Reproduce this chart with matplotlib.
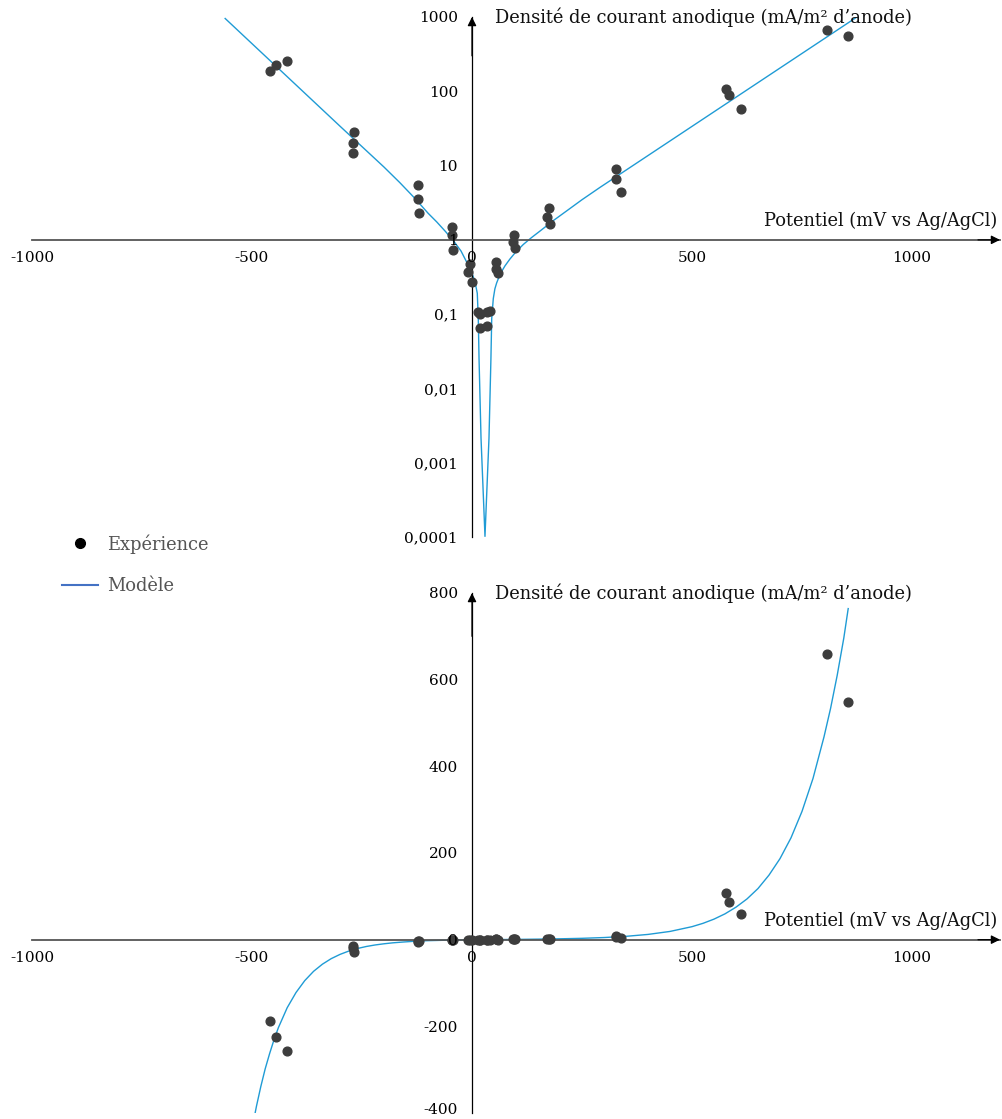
import matplotlib
matplotlib.use("Agg")
import matplotlib.pyplot as plt
from matplotlib.lines import Line2D
from matplotlib.ticker import FixedLocator, FixedFormatter, NullLocator

plt.rcParams['font.family'] = ['DejaVu Serif']

# Données expérimentales (potentiel en mV, densité de courant signée en mA/m2)
E_exp = [-459, -445, -421, -268, -271, -271, -123, -123, -120, -46, -46, -43,
         -5, -8, -1, 13, 18, 19, 33, 35, 41, 55, 55, 58, 95, 93, 98,
         174, 170, 177, 327, 327, 338, 577, 584, 611, 806, 854]
j_exp = [-187, -225, -258, -28, -20, -14.6, -5.5, -3.6, -2.3, -1.48, -1.17, -0.72,
         -0.47, -0.37, -0.27, -0.107, -0.099, -0.066, 0.070, 0.108, 0.109, 0.51, 0.40, 0.36,
         1.18, 0.93, 0.77, 2.69, 2.05, 1.62, 9.1, 6.6, 4.35, 107, 88, 58.6, 660, 548]

# Modèle, échelle log (|j|)
E_mod_log = [-561, -300, -200, -164, -130, -100, -80, -60, -40, -25, -12, 0, 7, 12,
             14.3, 16, 20.5, 29.5, 38.6, 43, 44.8, 48.4, 52, 56, 64, 75, 86, 100, 117,
             135, 155, 185, 215, 250, 291, 880]
j_mod_log = [955, 33.9, 9.55, 5.89, 3.63, 2.29, 1.74, 1.29, 0.933, 0.708, 0.501, 0.355,
             0.269, 0.191, 0.087, 0.025, 0.00214, 0.000102, 0.00214, 0.025, 0.087, 0.162,
             0.219, 0.263, 0.347, 0.447, 0.550, 0.692, 0.871, 1.07, 1.32, 1.82, 2.45,
             3.47, 5.09, 1047]

# Modèle, échelle linéaire (j signé)
E_mod_lin = [-500, -490, -480, -470, -460, -450, -440, -420, -400, -380, -360, -340,
             -320, -300, -280, -260, -240, -220, -200, -180, -160, -130, -100, -60, -30,
             0, 30, 60, 100, 150, 200, 250, 300, 350, 400, 450, 500, 525, 550, 575, 600,
             625, 650, 675, 700, 725, 750, 775, 800, 815, 830, 845, 855]
j_mod_lin = [-437, -385, -339, -298, -263, -231, -203, -157, -122, -94.4, -73, -56.6,
             -43.8, -34, -26.3, -20.3, -15.7, -12.2, -9.5, -7.3, -5.7, -3.6, -2.3, -1.3,
             -0.7, -0.35, 0, 0.25, 0.6, 1.2, 2.0, 3.1, 4.9, 7.7, 12.1, 19, 30, 37.7, 47.4,
             59.6, 75, 94, 118, 149, 187, 235, 296, 372, 468, 534, 610, 696, 764]

x_ticks = [-1000, -500, 0, 500, 1000]
x_labels = ['-1000', '-500', '0', '500', '1000']
y_ticks_log = [1e-4, 1e-3, 1e-2, 1e-1, 1, 10, 100, 1000]
y_labels_log = ['0,0001', '0,001', '0,01', '0,1', '1', '10', '100', '1000']
y_ticks_lin = [-400, -200, 0, 200, 400, 600, 800]
y_labels_lin = ['-400', '-200', '0', '200', '400', '600', '800']

ylabel = 'Densité de courant anodique (mA/m² d’anode)'
xlabel = 'Potentiel (mV vs Ag/AgCl)'

col_mod = '#1f9bd5'
col_pt = '#3d3d3d'
W, H = 1003, 1119

fig = plt.figure(figsize=(W / 100, H / 100), dpi=100)
ax1 = fig.add_axes([32 / W, 1 - 537 / H, 968 / W, 520 / H])
ax2 = fig.add_axes([32 / W, 1 - 1113 / H, 968 / W, 520 / H])


def arrow(ax, x0, y0, x1, y1):
    ax.annotate('', xy=(x1, y1), xytext=(x0, y0),
                arrowprops=dict(arrowstyle='-|>', color='black', lw=0.9,
                                mutation_scale=13, shrinkA=0, shrinkB=0),
                annotation_clip=False)


def style_axes(ax, ycross, ytop, ytail, yticks, ylabels):
    ax.set_xlim(-1000, 1200)
    for s in ['top', 'right']:
        ax.spines[s].set_visible(False)
    ax.spines['left'].set_position(('data', 0))
    ax.spines['bottom'].set_position(('data', ycross))
    ax.spines['left'].set_color('black')
    ax.spines['left'].set_linewidth(0.9)
    ax.spines['bottom'].set_color('#555555')
    ax.spines['bottom'].set_linewidth(1.3)
    ax.set_xticks(x_ticks)
    ax.set_xticklabels(x_labels)
    ax.yaxis.set_major_locator(FixedLocator(yticks))
    ax.yaxis.set_major_formatter(FixedFormatter(ylabels))
    ax.yaxis.set_minor_locator(NullLocator())
    ax.tick_params(axis='x', length=0, pad=8, labelsize=11)
    ax.tick_params(axis='y', length=0, pad=10, labelsize=11)
    ax.xaxis.set_zorder(5)
    ax.yaxis.set_zorder(5)
    ax.set_facecolor('none')
    # flèches
    arrow(ax, 1150, ycross, 1200, ycross)
    arrow(ax, 0, ytail, 0, ytop)
    ax.annotate(ylabel, xy=(0, ytop), xytext=(16.5, 0), textcoords='offset points',
                ha='left', va='center', fontsize=12.9, color='#111111')
    ax.annotate(xlabel, xy=(1200, ycross), xytext=(-2, 13.5), textcoords='offset points',
                ha='right', va='center', fontsize=12.9, color='#111111')


# --- graphique logarithmique
ax1.set_yscale('log')
ax1.set_ylim(1e-4, 1e3)
ax1.plot(E_mod_log, j_mod_log, color=col_mod, lw=1.0, zorder=2)
ax1.plot(E_exp, [abs(v) for v in j_exp], 'o', color=col_pt, ms=6.3, zorder=3)
style_axes(ax1, 1, 1e3, 300, y_ticks_log, y_labels_log)

# --- graphique linéaire
ax2.set_ylim(-400, 800)
ax2.plot(E_mod_lin, j_mod_lin, color=col_mod, lw=1.0, zorder=2)
ax2.plot(E_exp, j_exp, 'o', color=col_pt, ms=6.3, zorder=3)
style_axes(ax2, 0, 800, 700, y_ticks_lin, [''] + y_labels_lin[1:])
# le libellé du bas, un peu remonté pour rester dans l'image
ax2.annotate(y_labels_lin[0], xy=(0, y_ticks_lin[0]), xytext=(-10, 2.5),
             textcoords='offset points', ha='right', va='center', fontsize=11,
             annotation_clip=False)

handles = [Line2D([], [], marker='o', ls='none', color='black', ms=7),
           Line2D([], [], color='#4472c4', lw=1.5)]
fig.legend(handles, ['Expérience', 'Modèle'], loc='upper left',
           bbox_to_anchor=(62 / W, 1 - 534 / H), frameon=False, fontsize=12.9,
           labelcolor='#555555', handlelength=2.0, handletextpad=0.5,
           labelspacing=1.3, borderpad=0, borderaxespad=0)

fig.savefig('out.png', dpi=100)
